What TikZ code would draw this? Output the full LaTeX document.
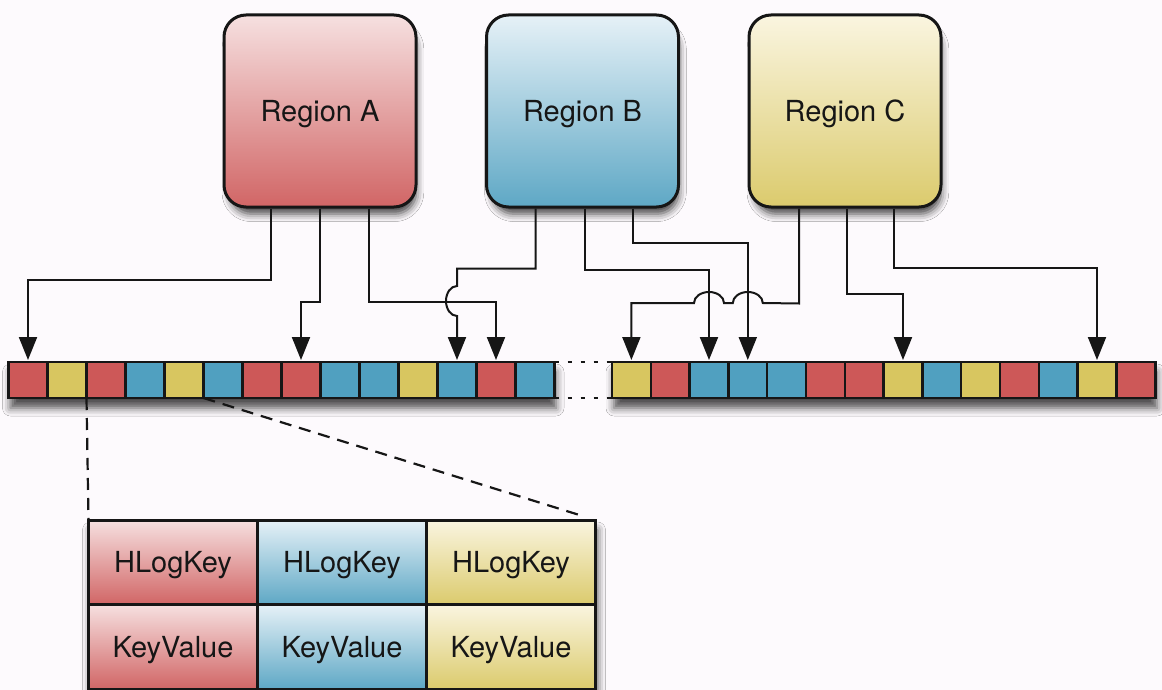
\documentclass[tikz,border=0pt]{standalone}
\usepackage{fontspec}
\setmainfont{TeX Gyre Heros}
\usetikzlibrary{arrows.meta,shadows.blur,positioning,calc}

\definecolor{redcell}{RGB}{205,88,88}
\definecolor{bluecell}{RGB}{80,160,192}
\definecolor{yelcell}{RGB}{216,198,96}
\definecolor{redtop}{RGB}{246,224,224}
\definecolor{bluetop}{RGB}{230,241,247}
\definecolor{yeltop}{RGB}{250,245,224}
\definecolor{ink}{RGB}{22,22,22}
\definecolor{paper}{RGB}{253,250,253}

\begin{document}
\begin{tikzpicture}
[x=0.5pt,y=-0.5pt,
region/.style={draw=ink,line width=1.5pt,rounded corners=11pt,
  minimum width=96pt,minimum height=96pt,inner sep=0pt,
  font=\fontsize{14.5}{17}\selectfont,text=ink,text depth=0pt,
  blur shadow={shadow xshift=1.5pt,shadow yshift=-5pt,shadow scale=0.97,
    shadow blur radius=4pt,shadow opacity=75}},
slot/.style={draw=ink,line width=1.2pt,minimum width=19.5pt,
  minimum height=18pt,inner sep=0pt,outer sep=0pt},
entry/.style={draw=ink,line width=1.1pt,minimum width=84.5pt,
  minimum height=42.25pt,inner sep=0pt,outer sep=0pt,
  font=\fontsize{14.5}{17}\selectfont,text=ink,text depth=0pt},
feed/.style={draw=ink,line width=1pt,
  -{Triangle[width=9pt,length=11.5pt]},shorten >=1pt},
elide/.style={draw=ink,line width=1.2pt,dash pattern=on 2pt off 4.5pt},
lens/.style={draw=ink,line width=1.1pt,dash pattern=on 6pt off 4pt},
logshadow/.style={fill=paper,blur shadow={shadow xshift=1pt,shadow yshift=-5pt,
  shadow blur radius=4pt,shadow opacity=70}}]
\useasboundingbox (0,0) rectangle (1162,690);
\fill[paper] (0,0) rectangle (1162,690);

% regions
\node (ra) [region,top color=redtop,bottom color=redcell!92!white] at (320,111) {Region A};
\node (rb) [region,top color=bluetop,bottom color=bluecell!92!white] at (582.5,111) {Region B};
\node (rc) [region,top color=yeltop,bottom color=yelcell!92!white] at (845,111) {Region C};

% the log, in two pieces
\path[logshadow] (8.5,362) rectangle (554,398);
\path[logshadow] (612,362) rectangle (1155,398);
\foreach \c [count=\i from 0] in {redcell,yelcell,redcell,bluecell,yelcell,
    bluecell,redcell,redcell,bluecell,bluecell,yelcell,bluecell,redcell,bluecell}
  \node (l\i) [slot,fill=\c] at (28+39*\i,380) {};
\foreach \c [count=\i from 0] in {yelcell,redcell,bluecell,bluecell,bluecell,
    redcell,redcell,yelcell,bluecell,yelcell,redcell,bluecell,yelcell,redcell}
  \node (r\i) [slot,fill=\c] at (631.4+38.8*\i,380) {};
\draw[elide] (l13.north east) -- (r0.north west);
\draw[elide] (l13.south east) -- (r0.south west);

% edits
\coordinate (ay) at (0,301);
\coordinate (cy) at (0,303);
\draw[feed] ([xshift=-24.5pt]ra.south) -- ++(0,71) -| (l0.north);
\draw[feed] (ra.south) -- ++(0,93) -| (l7.north);
\draw[feed] ([xshift=24.5pt]ra.south) -- ++(0,93) -| (l12.north);

\draw[feed] ([xshift=-23.5pt]rb.south) -- ++(0,60)
  -| ($(l11.north |- ay)+(0,-15)$)
  arc[start angle=90,end angle=270,x radius=5.5pt,y radius=7.5pt]
  -- (l11.north);
\draw[feed] ([xshift=1pt]rb.south) -- ++(0,61) -| (r2.north);
\draw[feed] ([xshift=25pt]rb.south) -- ++(0,34) -| (r3.north);

\draw[feed] ([xshift=-23pt]rc.south) -- ++(0,95)
  -- ($(r3.north |- cy)+(15,0)$)
  arc[start angle=0,end angle=180,x radius=7.5pt,y radius=5.5pt]
  -- ($(r2.north |- cy)+(15,0)$)
  arc[start angle=0,end angle=180,x radius=7.5pt,y radius=5.5pt]
  -| (r0.north);
\draw[feed] ([xshift=1pt]rc.south) -- ++(0,85) -| (r7.north);
\draw[feed] ([xshift=24.5pt]rc.south) -- ++(0,59) -| (r12.north);

% one entry, opened up
\path[logshadow] (88.5,520) rectangle (595.5,689);
\node (hk1) [entry,top color=redtop,bottom color=redcell!92!white] at (173,562.25) {HLogKey};
\node (hk2) [entry,top color=bluetop,bottom color=bluecell!92!white] at (342,562.25) {HLogKey};
\node (hk3) [entry,top color=yeltop,bottom color=yelcell!92!white] at (511,562.25) {HLogKey};
\node (kv1) [entry,top color=redtop,bottom color=redcell!92!white] at (173,646.75) {KeyValue};
\node (kv2) [entry,top color=bluetop,bottom color=bluecell!92!white] at (342,646.75) {KeyValue};
\node (kv3) [entry,top color=yeltop,bottom color=yelcell!92!white] at (511,646.75) {KeyValue};
\draw[ink,line width=1.5pt] (hk1.north west) rectangle (kv3.south east);
\draw[lens] (l2.south west) -- (hk1.north west);
\draw[lens,shorten >=8pt] (l5.south west) -- (hk3.north east);
\end{tikzpicture}
\end{document}
